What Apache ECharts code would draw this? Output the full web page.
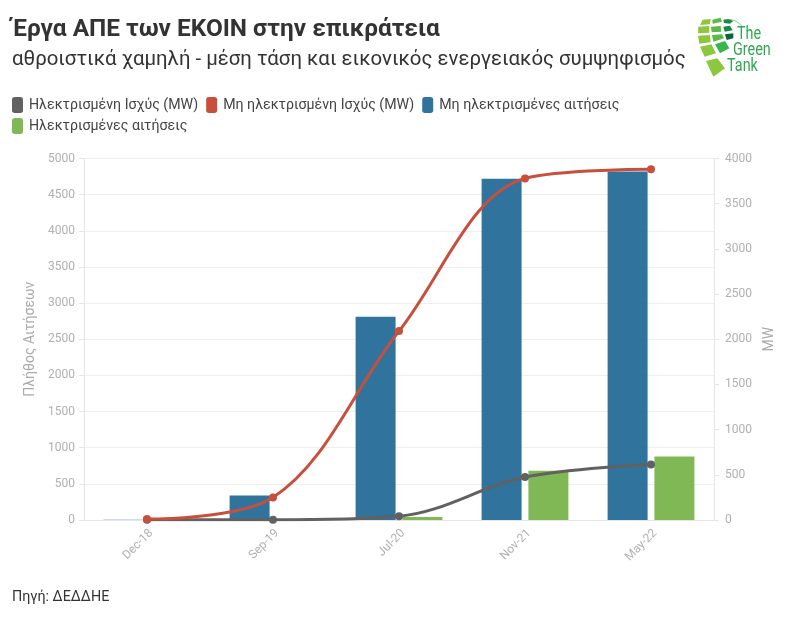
<!DOCTYPE html>
<html><head><meta charset="utf-8">
<style>html,body{margin:0;padding:0;background:#fff}#c{width:796px;height:625px}</style>
<script src="https://cdn.jsdelivr.net/npm/echarts@6/dist/echarts.min.js"></script>
</head><body><div id="c"></div>
<script>
const categories = ['Dec-18','Sep-19','Jul-20','Nov-21','May-22'];
const blueBars = [5, 340, 2810, 4720, 4820];
const greenBars = [0, 0, 40, 680, 880];
const redLine = [10, 250, 2090, 3780, 3880];
const grayLine = [3, 3, 42, 475, 615];
const leftTicks = {min:0,max:5000,interval:500};
const rightTicks = {min:0,max:4000,interval:500};
const F = '"Roboto","Noto Sans",sans-serif';
const plain = v=>String(v);
const chart = echarts.init(document.getElementById('c'),null,{renderer:'canvas'});
const toLogo = p=>[680+p[0]/3,5+p[1]/3];
const poly = (pts,fill)=>({type:'polygon',shape:{points:pts.map(toLogo)},style:{fill}});
const logoText=(t,x,y)=>({type:'text',x,y,scaleX:0.8,style:{text:t,fill:'#2fa84f',font:'400 18px "Roboto",sans-serif',textVerticalAlign:'middle'}});
const lightG='#8dc63f',midG='#5cb947',darkG='#006837';
const legendBase = {left:7,itemWidth:11,itemHeight:16,itemGap:8,icon:'roundRect',
  textStyle:{fontFamily:F,fontSize:14.2,color:'#444',padding:[0,0,0,1]}};
chart.setOption({
  animation:false,
  backgroundColor:'#fff',
  title:[
    {text:'Έργα ΑΠΕ των ΕΚΟΙΝ στην επικράτεια',left:7,top:13,textStyle:{fontFamily:F,fontWeight:'bold',fontSize:24.4,color:'#333'}},
    {text:'αθροιστικά χαμηλή - μέση τάση και εικονικός ενεργειακός συμψηφισμός',left:7,top:45,textStyle:{fontFamily:F,fontWeight:'normal',fontSize:20.4,color:'#333'}},
    {text:'Πηγή: ΔΕΔΔΗΕ',left:7,top:585,textStyle:{fontFamily:F,fontWeight:'normal',fontSize:14.3,color:'#333'}}
  ],
  legend:[
    {...legendBase,top:92,data:['Ηλεκτρισμένη Ισχύς (MW)','Μη ηλεκτρισμένη Ισχύς (MW)','Μη ηλεκτρισμένες αιτήσεις']},
    {...legendBase,top:113,data:['Ηλεκτρισμένες αιτήσεις']}
  ],
  grid:{left:84,right:82,top:158.5,height:361.5},
  xAxis:{type:'category',data:categories,axisLine:{lineStyle:{color:'#e6e6e6'}},axisTick:{show:false},
    axisLabel:{rotate:45,color:'#b0b0b0',fontFamily:F,fontSize:12,margin:7,verticalAlign:'top'},splitLine:{show:false}},
  yAxis:[
    {type:'value',...leftTicks,name:'Πλήθος Αιτήσεων',nameLocation:'middle',nameGap:44,nameTextStyle:{color:'#aaa',fontFamily:F,fontSize:14},
     axisLine:{show:true,lineStyle:{color:'#e6e6e6'}},axisTick:{show:true,length:5,lineStyle:{color:'#e6e6e6'}},
     axisLabel:{color:'#b0b0b0',fontFamily:F,fontSize:12,margin:9,formatter:plain},splitLine:{lineStyle:{color:'#eeeeee'}}},
    {type:'value',...rightTicks,name:'MW',nameLocation:'middle',nameGap:43,nameTextStyle:{color:'#aaa',fontFamily:F,fontSize:14},
     axisLine:{show:true,lineStyle:{color:'#e6e6e6'}},axisTick:{show:true,length:5,lineStyle:{color:'#e6e6e6'}},
     axisLabel:{color:'#b0b0b0',fontFamily:F,fontSize:12,margin:11,formatter:plain},splitLine:{show:false}}
  ],
  series:[
    {name:'Ηλεκτρισμένη Ισχύς (MW)',type:'line',yAxisIndex:1,data:grayLine,smooth:0.35,symbol:'circle',symbolSize:8,z:4,
     itemStyle:{color:'#616161'},lineStyle:{color:'#616161',width:3}},
    {name:'Μη ηλεκτρισμένη Ισχύς (MW)',type:'line',yAxisIndex:1,data:redLine,smooth:0.35,symbol:'circle',symbolSize:8,z:5,
     itemStyle:{color:'#c84f3c'},lineStyle:{color:'#c84f3c',width:3}},
    {name:'Μη ηλεκτρισμένες αιτήσεις',type:'bar',data:blueBars,barWidth:40,barGap:'17%',z:2,
     itemStyle:{color:'#1a6593',opacity:0.9}},
    {name:'Ηλεκτρισμένες αιτήσεις',type:'bar',data:greenBars,barWidth:40,z:2,
     itemStyle:{color:'#72b043',opacity:0.9}}
  ],
  graphic:[
    poly([[68,44],[92,42],[90,58],[60,60]],lightG),
    poly([[55,65],[88,63],[88,83],[54,85]],lightG),
    poly([[54,92],[90,90],[92,112],[58,116]],lightG),
    poly([[60,125],[94,118],[108,145],[74,155]],lightG),
    poly([[78,168],[112,160],[135,190],[100,215]],lightG),
    poly([[97,44],[122,38],[126,50],[98,56]],midG),
    poly([[93,65],[122,63],[124,80],[95,82]],midG),
    poly([[96,90],[126,88],[132,100],[100,110]],midG),
    poly([[105,118],[135,108],[148,130],[120,145]],'#39b54a'),
    poly([[130,44],[145,42],[160,48],[150,56],[132,54]],'#1a8a4a'),
    poly([[130,65],[150,62],[158,76],[134,80]],'#1a8a4a'),
    poly([[135,88],[160,85],[160,100],[140,105]],darkG),
    {type:'polyline',shape:{points:[[150,43],[170,50],[186,64]].map(toLogo),smooth:0.5},style:{stroke:'#39b54a',lineWidth:0.7,fill:'none'}},
    logoText('The',737,34),logoText('Green',733,50),logoText('Tank',727,66)
  ]
});
</script></body></html>
